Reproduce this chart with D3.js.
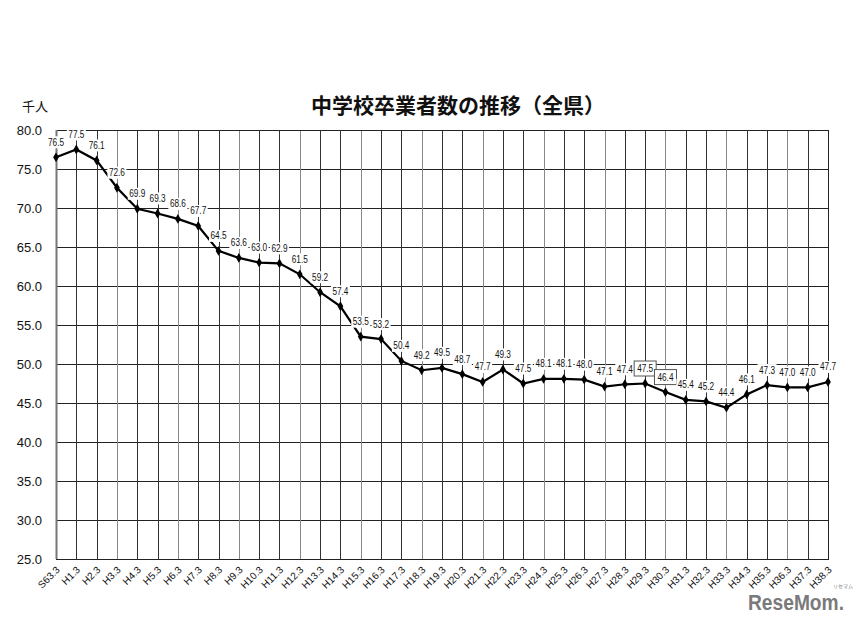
<!DOCTYPE html>
<html><head><meta charset="utf-8">
<script src="https://cdn.jsdelivr.net/npm/d3@7"></script>
<style>body{margin:0;background:#fff;}svg{display:block;}</style>
</head><body>
<script>
const categories = ["S63.3","H1.3","H2.3","H3.3","H4.3","H5.3","H6.3","H7.3","H8.3","H9.3","H10.3","H11.3","H12.3","H13.3","H14.3","H15.3","H16.3","H17.3","H18.3","H19.3","H20.3","H21.3","H22.3","H23.3","H24.3","H25.3","H26.3","H27.3","H28.3","H29.3","H30.3","H31.3","H32.3","H33.3","H34.3","H35.3","H36.3","H37.3","H38.3"];
const values = [76.5,77.5,76.1,72.6,69.9,69.3,68.6,67.7,64.5,63.6,63.0,62.9,61.5,59.2,57.4,53.5,53.2,50.4,49.2,49.5,48.7,47.7,49.3,47.5,48.1,48.1,48.0,47.1,47.4,47.5,46.4,45.4,45.2,44.4,46.1,47.3,47.0,47.0,47.7];
const yTicks = [25,30,35,40,45,50,55,60,65,70,75,80];
const boxedLabels = ["H29.3","H30.3"];
const title = "中学校卒業者数の推移（全県）";
const unit = "千人";

(function(){
const W = 859, H = 623;
const svg = d3.select("body").append("svg").attr("width", W).attr("height", H);
const pl = 56, pr = 828, pt = 130, pb = 559;

const x = d3.scalePoint().domain(categories).range([pl, pr]);
const y = d3.scaleLinear().domain([25, 80]).range([pb, pt]);

// horizontal grid
svg.append("g").selectAll("line").data(yTicks).join("line")
  .attr("x1", pl).attr("x2", pr)
  .attr("y1", d => Math.round(y(d)) + 0.5).attr("y2", d => Math.round(y(d)) + 0.5)
  .attr("stroke", "#222").attr("stroke-width", 1);
// vertical grid
svg.append("g").selectAll("line").data(categories).join("line")
  .attr("x1", d => Math.round(x(d)) + 0.5).attr("x2", d => Math.round(x(d)) + 0.5)
  .attr("y1", pt).attr("y2", pb)
  .attr("stroke", (d, i) => i % 3 === 0 ? "#888" : "#333").attr("stroke-width", 1);
// frame
svg.append("rect").attr("x", pl + 0.5).attr("y", Math.round(pt) + 0.5)
  .attr("width", pr - pl).attr("height", pb - pt)
  .attr("fill", "none").attr("stroke", "#222").attr("stroke-width", 1);
svg.append("line").attr("x1", pl + 0.5).attr("x2", pl + 0.5).attr("y1", pt).attr("y2", pb)
  .attr("stroke", "#777").attr("stroke-width", 2);

// y axis labels
const yAxis = d3.axisLeft(y).tickValues(yTicks).tickFormat(d3.format(".1f")).tickSize(0).tickPadding(14);
const ya = svg.append("g").attr("transform", `translate(${pl},0)`).call(yAxis);
ya.select(".domain").remove();
ya.selectAll("text").attr("font-family", "Arial, 'Liberation Sans', sans-serif").attr("font-size", 13).attr("fill", "#111");

// x axis labels
const xa = svg.append("g").attr("transform", `translate(0,${pb})`);
xa.selectAll("text").data(categories).join("text")
  .attr("transform", d => `translate(${x(d) + 2},${9}) rotate(-45)`)
  .attr("text-anchor", "end")
  .attr("dy", "0.35em")
  .attr("font-family", "Arial, 'Liberation Sans', sans-serif").attr("font-size", 10).attr("fill", "#111")
  .text(d => d);

// line
const data = categories.map((c, i) => ({c, v: values[i]}));
svg.append("path").datum(data)
  .attr("d", d3.line().x(d => x(d.c)).y(d => y(d.v)))
  .attr("fill", "none").attr("stroke", "#000").attr("stroke-width", 2.2);

// labels
const lg = svg.append("g");
data.forEach(d => {
  const px = x(d.c), py = y(d.v) - 15;
  const boxed = boxedLabels.includes(d.c);
  const g = lg.append("g");
  const w = boxed ? 22 : 19, h = boxed ? 15 : 12;
  g.append("rect").attr("x", px - w / 2).attr("y", py - h / 2).attr("width", w).attr("height", h)
    .attr("fill", "#fff").attr("stroke", boxed ? "#555" : "none").attr("stroke-width", 1);
  g.append("text").attr("x", px).attr("y", py).attr("dy", "0.35em").attr("text-anchor", "middle")
    .attr("font-family", "Arial, 'Liberation Sans', sans-serif").attr("font-size", 10).attr("fill", "#111")
    .attr("textLength", 16).attr("lengthAdjust", "spacingAndGlyphs")
    .text(d3.format(".1f")(d.v));
});

// markers
svg.append("g").selectAll("path").data(data).join("path")
  .attr("transform", d => `translate(${x(d.c)},${y(d.v)})`)
  .attr("d", d3.symbol().type(d3.symbolDiamond).size(28))
  .attr("fill", "#000");

// title & unit
svg.append("text").attr("x", 458).attr("y", 113).attr("text-anchor", "middle")
  .attr("font-family", "'Noto Sans CJK JP', sans-serif").attr("font-weight", "bold").attr("font-size", 21)
  .attr("fill", "#111").text(title);
svg.append("text").attr("x", 22).attr("y", 111)
  .attr("font-family", "'Noto Sans CJK JP', sans-serif").attr("font-size", 13)
  .attr("fill", "#111").text(unit);

// watermark
svg.append("text").attr("x", 748).attr("y", 610)
  .attr("font-family", "Arial, 'Liberation Sans', sans-serif").attr("font-weight", "bold").attr("font-size", 22)
  .attr("fill", "#7a7a7a").attr("textLength", 96).attr("lengthAdjust", "spacingAndGlyphs").text("ReseMom.");
svg.append("text").attr("x", 843).attr("y", 588).attr("text-anchor", "middle")
  .attr("font-family", "'Noto Sans CJK JP', sans-serif").attr("font-size", 5)
  .attr("fill", "#7a7a7a").text("リセマム");
})();
</script>
</body></html>
